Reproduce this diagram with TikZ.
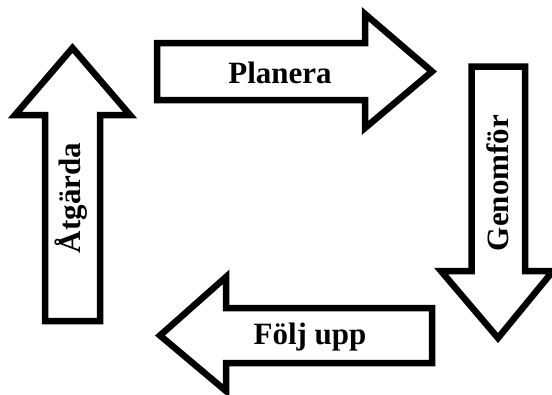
\documentclass[tikz,border=0pt]{standalone}
\usepackage{fontspec}
\setmainfont{Liberation Serif}
\tikzset{
  blockarrow/.style={draw=black, fill=white, line width=6.5pt, line join=miter},
  steplabel/.style={font=\bfseries\fontsize{31}{31}\selectfont, inner sep=0pt, anchor=base}
}

\begin{document}
\begin{tikzpicture}[x=1pt, y=-1pt]
      \useasboundingbox (0,0) rectangle (552,394);
      % Planera, pointing right
      \draw[blockarrow] (157,43) -- (365,43) -- (365,14) -- (432,71.5) -- (365,128)
        -- (365,100) -- (157,100) -- cycle;
      % Genomfor, pointing down
      \draw[blockarrow] (471.5,66.5) -- (525,66.5) -- (525,271) -- (553,271) -- (498,338)
        -- (441,271) -- (471.5,271) -- cycle;
      % Folj upp, pointing left
      \draw[blockarrow] (432,308) -- (432,363) -- (226,363) -- (226,391) -- (160,335.5)
        -- (226,277) -- (226,308) -- cycle;
      % Atgarda, pointing up
      \draw[blockarrow] (45,321) -- (45,115) -- (15,115) -- (72.5,48) -- (130,115)
        -- (100,115) -- (100,321) -- cycle;
      % Labels
      \node[steplabel] (planera) at (280,83) {Planera};
      \node[steplabel, rotate=90] (genomfor) at (508,183) {Genomför};
      \node[steplabel] (foljupp) at (310,344) {Följ upp};
      \node[steplabel, rotate=90] (atgarda) at (80,198) {Åtgärda};
\end{tikzpicture}
\end{document}
